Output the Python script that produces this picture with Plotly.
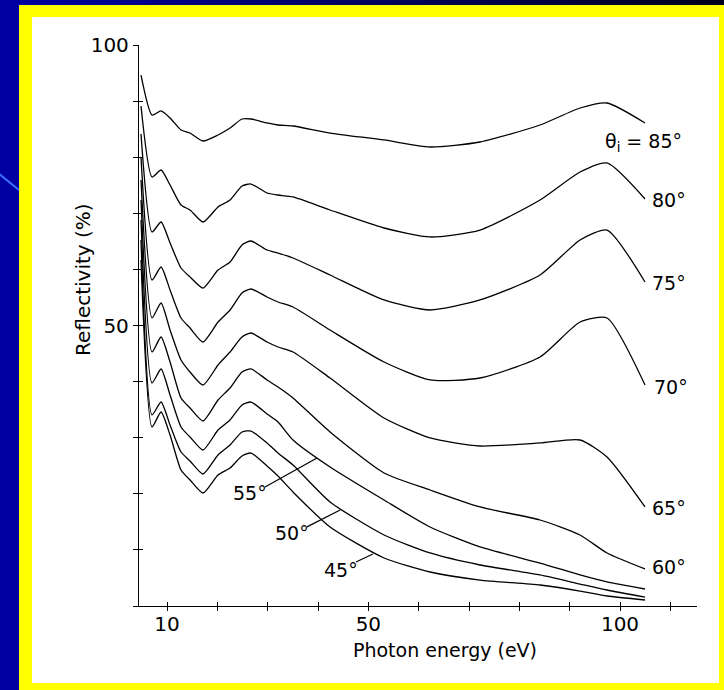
import plotly.graph_objects as go

# Photon energy grid (eV)
energy = [4.83, 7.02, 8.81, 10.60, 12.78, 14.57, 17.15, 20.13, 22.52, 24.90, 26.69,
          29.87, 32.05, 35.03, 42.39, 53.12, 62.26, 72.19, 84.11, 92.06, 97.42, 104.97]

# Reflectivity (%) for each angle of incidence
r85 = [94.65, 87.52, 88.24, 86.99, 84.85, 84.31, 82.89, 83.96, 85.20, 86.81, 86.81,
       86.10, 85.74, 85.56, 84.31, 83.07, 81.82, 82.71, 85.74, 88.77, 89.66, 86.10]
r80 = [89.13, 76.47, 77.72, 75.04, 71.48, 70.59, 68.45, 71.12, 72.37, 74.87, 75.22,
       73.62, 73.26, 72.91, 70.59, 67.38, 65.78, 67.02, 72.37, 77.36, 78.97, 72.55]
r75 = [84.14, 66.67, 68.45, 64.71, 60.25, 58.65, 56.68, 59.89, 61.32, 64.35, 65.06,
       63.46, 62.92, 62.03, 59.00, 54.55, 52.76, 54.55, 59.00, 65.24, 67.02, 57.75]
r70 = [80.04, 58.11, 60.43, 56.33, 51.34, 49.55, 47.06, 50.62, 52.76, 55.79, 56.51,
       55.08, 54.19, 53.30, 49.20, 43.49, 40.29, 40.64, 44.39, 50.62, 51.34, 39.39]
r65 = [75.94, 51.34, 54.01, 49.20, 43.85, 41.71, 39.39, 42.96, 45.28, 47.95, 48.66,
       47.06, 46.17, 45.28, 40.64, 33.51, 29.95, 28.52, 29.06, 29.59, 26.56, 17.65]
r60 = [72.37, 45.28, 47.95, 43.49, 37.08, 35.29, 32.98, 36.72, 38.86, 41.71, 42.25,
       40.29, 39.04, 37.08, 31.02, 23.71, 20.68, 17.65, 15.33, 12.66, 9.45, 6.60]
r55 = [68.81, 39.75, 42.25, 37.61, 31.91, 30.12, 27.81, 31.37, 33.16, 35.83, 36.36,
       34.22, 32.80, 29.59, 24.78, 18.89, 14.08, 10.52, 7.66, 5.53, 4.28, 3.03]
r50 = [65.24, 34.05, 36.36, 32.26, 27.45, 25.85, 23.53, 26.92, 28.70, 31.02, 31.19,
       29.06, 27.27, 25.13, 18.54, 12.66, 9.45, 7.31, 5.53, 3.92, 2.85, 1.60]
r45 = [61.68, 31.91, 34.58, 30.48, 24.24, 22.46, 20.14, 23.35, 24.60, 26.74, 27.27,
       24.96, 23.17, 20.32, 14.08, 8.56, 6.06, 4.63, 3.74, 2.67, 1.78, 1.07]

series = [r85, r80, r75, r70, r65, r60, r55, r50, r45]
angles = [85, 80, 75, 70, 65, 60, 55, 50, 45]

x_tickvals = [10, 20, 30, 40, 50, 60, 70, 80, 90, 100, 110]
x_ticktext = ["10", "", "", "", "50", "", "", "", "", "100", ""]
y_tickvals = [0, 10, 20, 30, 40, 50, 60, 70, 80, 90, 100]
y_ticktext = ["", "", "", "", "", "50", "", "", "", "", "100"]

XR = [4.43, 115.3]
YR = [0, 100]

FONT = "DejaVu Sans, Arial, sans-serif"

fig = go.Figure()
for ang, r in zip(angles, series):
    fig.add_trace(go.Scatter(x=energy, y=r, mode="lines", name=f"{ang}°",
                             line=dict(color="black", width=1.3, shape="spline", smoothing=0.6),
                             showlegend=False, hoverinfo="skip"))
# dummy trace on overlay axes so they render
fig.add_trace(go.Scatter(x=[None], y=[None], xaxis="x2", yaxis="y2", showlegend=False))

# px -> paper helpers (for decorations only)
L, R, T, B = 139, 697, 45, 606
W, H = R - L, B - T
def px(x):
    return (x - L) / W
def py(y):
    return (B - y) / H

shapes = []
# top gradient strip
n = 24
for i in range(n):
    f = i / (n - 1)
    c = f"rgb(0,0,{int(160 - 130 * f)})"
    shapes.append(dict(type="rect", xref="paper", yref="paper",
                       x0=px(724 * i / n), x1=px(724 * (i + 1) / n + 1), y0=py(0), y1=py(6),
                       fillcolor=c, line=dict(width=0), layer="below"))
shapes.append(dict(type="rect", xref="paper", yref="paper", x0=px(19), x1=px(725),
                   y0=py(691), y1=py(5), fillcolor="#FFFF00", line=dict(width=0), layer="below"))
shapes.append(dict(type="rect", xref="paper", yref="paper", x0=px(32), x1=px(719),
                   y0=py(683), y1=py(17), fillcolor="#FFFFFF", line=dict(width=0), layer="below"))
shapes.append(dict(type="line", xref="paper", yref="paper", x0=px(-2), x1=px(19),
                   y0=py(173), y1=py(190), line=dict(color="#3A6CFF", width=2), layer="below"))

# leader lines (data coords)
leaders = [((29.47, 21.2), (39.8, 26.4)), ((37.8, 14.1), (44.4, 17.1)), ((47.55, 7.84), (50.9, 9.27))]
for (x0, y0), (x1, y1) in leaders:
    shapes.append(dict(type="line", xref="x", yref="y", x0=x0, y0=y0, x1=x1, y1=y1,
                       line=dict(color="black", width=1.2)))

labels = [
    ("θ<sub>i</sub> = 85°", 96.63, 82.7, "left"),
    ("80°", 105.97, 72.4, "left"),
    ("75°", 105.97, 57.6, "left"),
    ("70°", 106.4, 39.0, "left"),
    ("65°", 105.97, 17.5, "left"),
    ("60°", 105.97, 6.95, "left"),
    ("55°", 26.5, 20.1, "center"),
    ("50°", 34.8, 13.0, "center"),
    ("45°", 44.6, 6.4, "center"),
]
annotations = []
for txt, x, y, xa in labels:
    annotations.append(dict(text=txt, x=x, y=y, xref="x", yref="y", xanchor=xa, yanchor="middle",
                            showarrow=False, font=dict(family=FONT, size=19, color="black")))
annotations.append(dict(text="Photon energy (eV)", xref="paper", yref="paper", x=px(444.5), y=py(650),
                        xanchor="center", yanchor="middle", showarrow=False,
                        font=dict(family=FONT, size=19, color="black")))
annotations.append(dict(text="Reflectivity (%)", xref="paper", yref="paper", x=px(83), y=py(280),
                        xanchor="center", yanchor="middle", showarrow=False, textangle=-90,
                        font=dict(family=FONT, size=20, color="black")))

axis_common = dict(showgrid=False, zeroline=False, showline=True, linecolor="black", linewidth=1.3,
                   tickcolor="black", tickwidth=1.3)
fig.update_layout(
    width=724, height=690,
    margin=dict(l=L, r=724 - R, t=T, b=690 - B, pad=0),
    paper_bgcolor="#0000A0", plot_bgcolor="rgba(0,0,0,0)",
    xaxis=dict(range=XR, tickmode="array", tickvals=x_tickvals, ticktext=x_ticktext,
               ticks="outside", ticklen=4, ticklabelstandoff=-4,
               tickfont=dict(family=FONT, size=20, color="black"),
               **axis_common),
    yaxis=dict(range=YR, tickmode="array", tickvals=y_tickvals, ticktext=y_ticktext,
               ticks="outside", ticklen=5, tickfont=dict(family=FONT, size=20, color="black"),
               **axis_common),
    xaxis2=dict(range=XR, overlaying="x", tickmode="array", tickvals=x_tickvals, showticklabels=False,
                ticks="inside", ticklen=4, side="bottom", anchor="y2", **axis_common),
    yaxis2=dict(range=YR, overlaying="y", tickmode="array", tickvals=y_tickvals, showticklabels=False,
                ticks="inside", ticklen=4, side="left", anchor="x2", **axis_common),
    shapes=shapes, annotations=annotations,
)

fig.write_html("out.html")
